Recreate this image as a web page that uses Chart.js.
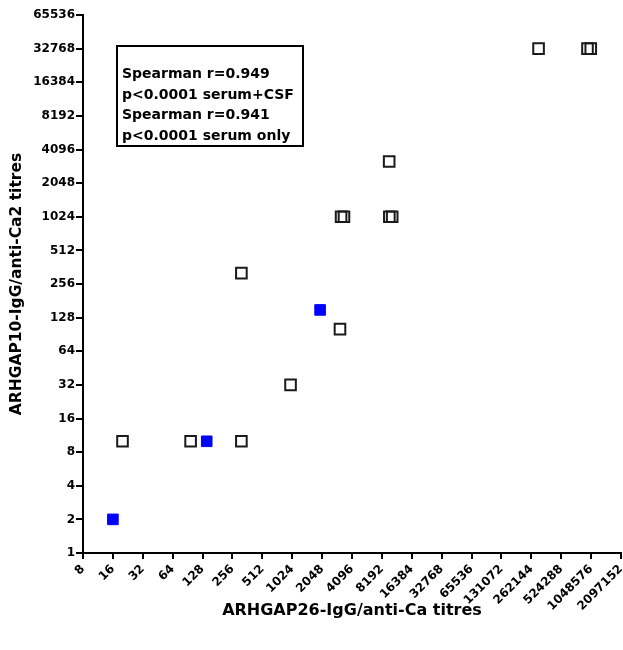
<!DOCTYPE html>
<html>
<head>
<meta charset="utf-8">
<script src="https://cdn.jsdelivr.net/npm/chart.js@4/dist/chart.umd.min.js"></script>
<style>
  html, body { margin: 0; padding: 0; background: #fff; }
  #wrap { width: 623px; height: 650px; }
</style>
</head>
<body>
<div id="wrap"><canvas id="titreChart"></canvas></div>
<script>
// Axis ticks (powers of two on both log axes)
const xTicks = [8, 16, 32, 64, 128, 256, 512, 1024, 2048, 4096, 8192, 16384, 32768,
                65536, 131072, 262144, 524288, 1048576, 2097152];
const yTicks = [1, 2, 4, 8, 16, 32, 64, 128, 256, 512, 1024, 2048, 4096, 8192,
                16384, 32768, 65536];

// Serum samples (open squares)
const serumX = [20, 97, 315, 315, 985, 3100, 3180, 3400, 9700, 9740, 10400, 310000, 964000, 1040000];
const serumY = [10, 10, 10, 320, 32, 101, 1024, 1024, 3200, 1024, 1024, 32768, 32768, 32768];

// CSF samples (filled blue squares)
const csfX = [16, 141, 1955];
const csfY = [2, 10, 150];

const statsLines = [
    'Spearman r=0.949',
    'p<0.0001 serum+CSF',
    'Spearman r=0.941',
    'p<0.0001 serum only'
];

const FONT = '"DejaVu Sans", "Liberation Sans", Arial, sans-serif';

function toPoints(xs, ys) {
    return xs.map((x, i) => ({ x: x, y: ys[i] }));
}

// Draws the boxed Spearman statistics in the upper left of the plot
const statsBox = {
    id: 'statsBox',
    afterDraw(chart) {
        const { ctx, chartArea } = chart;
        const left = chartArea.left + 34;
        const top = chartArea.top + 31;
        ctx.save();
        ctx.strokeStyle = '#000';
        ctx.lineWidth = 2;
        ctx.strokeRect(left, top, 186, 100);
        ctx.fillStyle = '#000';
        ctx.font = 'bold 14px ' + FONT;
        ctx.textBaseline = 'alphabetic';
        statsLines.forEach((line, i) => {
            ctx.fillText(line, left + 5, top + 32 + i * 20.7);
        });
        ctx.restore();
    }
};

function axisTicks(values) {
    return function (scale) {
        scale.ticks = values.map(v => ({ value: v }));
    };
}

const ctx = document.getElementById('titreChart').getContext('2d');
new Chart(ctx, {
    type: 'scatter',
    data: {
        datasets: [
            {
                label: 'Serum',
                data: toPoints(serumX, serumY),
                pointStyle: 'rect',
                pointRadius: 7.5,
                backgroundColor: 'rgba(0,0,0,0)',
                borderColor: '#1a1a1a',
                borderWidth: 2
            },
            {
                label: 'CSF',
                data: toPoints(csfX, csfY),
                pointStyle: 'rect',
                pointRadius: 7.5,
                backgroundColor: '#0000ff',
                borderColor: '#0000ff',
                borderWidth: 1
            }
        ]
    },
    options: {
        responsive: true,
        maintainAspectRatio: false,
        animation: false,
        events: [],
        layout: { autoPadding: false, padding: { top: 15, right: 2, left: 0, bottom: 0 } },
        plugins: {
            legend: { display: false },
            tooltip: { enabled: false }
        },
        scales: {
            x: {
                type: 'logarithmic',
                min: 8,
                max: 2097152,
                afterBuildTicks: axisTicks(xTicks),
                afterFit(scale) {
                    scale.height = 97;
                    scale.paddingLeft = 0;
                    scale.paddingRight = 0;
                },
                border: { color: '#000', width: 2 },
                grid: { drawOnChartArea: false, color: '#000', lineWidth: 2, tickLength: 6 },
                ticks: {
                    autoSkip: false,
                    minRotation: 45,
                    maxRotation: 45,
                    padding: 3,
                    color: '#000',
                    font: { family: FONT, size: 12, weight: 'bold' },
                    callback: (v, i) => String(xTicks[i])
                },
                title: {
                    display: true,
                    text: 'ARHGAP26-IgG/anti-Ca titres',
                    color: '#000',
                    font: { family: FONT, size: 16, weight: 'bold' },
                    padding: { top: 0, bottom: 30 }
                }
            },
            y: {
                type: 'logarithmic',
                min: 1,
                max: 65536,
                afterBuildTicks: axisTicks(yTicks),
                afterFit(scale) {
                    scale.width = 83;
                    scale.paddingTop = 0;
                    scale.paddingBottom = 0;
                },
                border: { color: '#000', width: 2 },
                grid: { drawOnChartArea: false, color: '#000', lineWidth: 2, tickLength: 7 },
                ticks: {
                    autoSkip: false,
                    padding: 1,
                    color: '#000',
                    font: { family: FONT, size: 12, weight: 'bold' },
                    callback: (v, i) => String(yTicks[i])
                },
                title: {
                    display: true,
                    text: 'ARHGAP10-IgG/anti-Ca2 titres',
                    color: '#000',
                    font: { family: FONT, size: 15.5, weight: 'bold' },
                    padding: { top: 8, bottom: 0 }
                }
            }
        }
    },
    plugins: [statsBox]
});
</script>
</body>
</html>
